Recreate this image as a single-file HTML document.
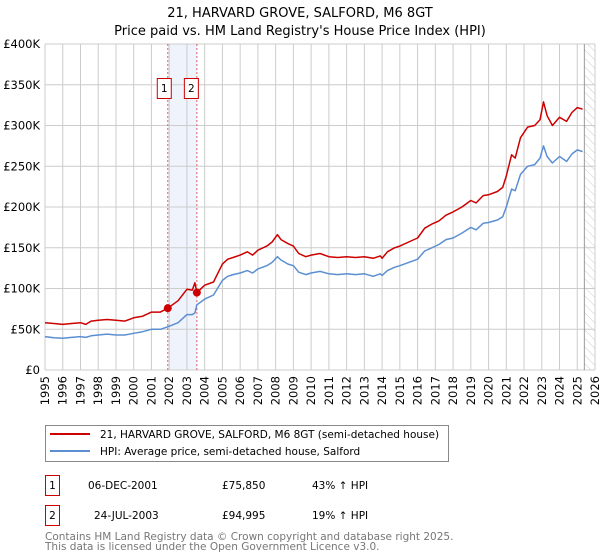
<!DOCTYPE html>
<html><head><meta charset="utf-8"><style>
body{margin:0;background:#fff;width:600px;height:560px;overflow:hidden;font-family:"DejaVu Sans","Liberation Sans",sans-serif}
svg{display:block}
</style></head><body>
<svg id="chart" width="600" height="560" font-family="DejaVu Sans, Liberation Sans, sans-serif">
<text x="300" y="17" text-anchor="middle" font-size="13">21, HARVARD GROVE, SALFORD, M6 8GT</text>
<text x="300" y="35" text-anchor="middle" font-size="13">Price paid vs. HM Land Registry's House Price Index (HPI)</text>
<g id="grid"></g><g id="marks"></g><g id="axes"></g>
<g>
<rect x="45.5" y="425.5" width="403" height="36" fill="#fff" stroke="#888"/>
<line x1="50" y1="434" x2="90" y2="434" stroke="#cc0000" stroke-width="2"/>
<text x="100" y="438" font-size="10.5">21, HARVARD GROVE, SALFORD, M6 8GT (semi-detached house)</text>
<line x1="50" y1="451" x2="90" y2="451" stroke="#5b8fd1" stroke-width="2"/>
<text x="100" y="455" font-size="10.5">HPI: Average price, semi-detached house, Salford</text>
</g>
<g font-size="10.5">
<rect x="45.5" y="475.5" width="14" height="20" fill="#fff" stroke="#cc0000"/>
<text x="52.5" y="489" text-anchor="middle">1</text>
<text x="88" y="489">06-DEC-2001</text>
<text x="222" y="489">£75,850</text>
<text x="312" y="489">43% ↑ HPI</text>
<rect x="45.5" y="505.5" width="14" height="20" fill="#fff" stroke="#cc0000"/>
<text x="52.5" y="519" text-anchor="middle">2</text>
<text x="94" y="519">24-JUL-2003</text>
<text x="222" y="519">£94,995</text>
<text x="312" y="519">19% ↑ HPI</text>
</g>
<text x="45" y="540" font-size="10.5" fill="#777">Contains HM Land Registry data © Crown copyright and database right 2025.</text>
<text x="45" y="550" font-size="10.5" fill="#777">This data is licensed under the Open Government Licence v3.0.</text>
</svg>
<script>
const yearTicks=[1995,1996,1997,1998,1999,2000,2001,2002,2003,2004,2005,2006,2007,2008,2009,2010,2011,2012,2013,2014,2015,2016,2017,2018,2019,2020,2021,2022,2023,2024,2025,2026];
const valueTicks=[0,50000,100000,150000,200000,250000,300000,350000,400000];
const valueTickLabels=["£0","£50K","£100K","£150K","£200K","£250K","£300K","£350K","£400K"];
const times=[1995.0,1995.5,1996.0,1996.5,1997.0,1997.3,1997.6,1998.0,1998.5,1999.0,1999.5,2000.0,2000.5,2001.0,2001.5,2001.92,2002.5,2003.0,2003.3,2003.45,2003.56,2004.0,2004.5,2005.0,2005.3,2005.6,2006.0,2006.4,2006.7,2007.0,2007.5,2007.8,2008.1,2008.3,2008.7,2009.0,2009.3,2009.7,2010.0,2010.5,2011.0,2011.5,2012.0,2012.5,2013.0,2013.5,2013.9,2014.0,2014.3,2014.7,2015.0,2015.5,2016.0,2016.4,2016.8,2017.2,2017.6,2018.0,2018.5,2019.0,2019.3,2019.7,2020.0,2020.5,2020.8,2021.0,2021.3,2021.5,2021.8,2022.2,2022.6,2022.9,2023.1,2023.3,2023.6,2024.0,2024.4,2024.7,2025.0,2025.3];
const hpiValues=[41,39.5,39,40,41,40,42,43,44,43,43,45,47,50,50,53,58,68,68,70,80,87,92,110,115,117,119,122,119,124,128,132,139,135,130,128,120,117,119,121,118,117,118,117,118,115,118,116,122,126,128,132,136,146,150,154,160,162,168,175,172,180,181,184,188,200,222,220,240,250,252,260,275,262,254,262,256,265,270,268];
const propertyValues=[58,57,56,57,58,56,60,61,62,61,60,64,66,71,71,75.85,85,99,98,107,95,104,108,130,136,138,141,145,141,147,152,157,166,160,155,152,143,139,141,143,139,138,139,138,139,137,140,137,145,150,152,157,162,174,179,183,190,194,200,208,205,214,215,219,224,238,264,260,285,298,300,307,329,312,300,310,305,316,322,320];
const saleTimes=[2001.92,2003.56];
const salePrices=[75850,94995];
const saleLabels=["1","2"];
const dataEnd=2025.4;
const NS="http://www.w3.org/2000/svg";
const X0=45,X1=595,Y0=370,Y1=44;
const xs=t=>X0+(t-1995)/(2026-1995)*(X1-X0);
const ys=v=>Y0-v/400000*(Y0-Y1);
function mk(tag,attrs,parent){const e=document.createElementNS(NS,tag);for(const k in attrs)e.setAttribute(k,attrs[k]);parent.appendChild(e);return e;}
const grid=document.getElementById('grid'),marks=document.getElementById('marks'),axes=document.getElementById('axes');
const span=mk('rect',{x:xs(saleTimes[0]),y:Y1,width:xs(saleTimes[1])-xs(saleTimes[0]),height:Y0-Y1,fill:'#eef3fc'},grid);


const defs=mk('defs',{},grid);
const pat=mk('pattern',{id:'hatch',width:6,height:6,patternUnits:'userSpaceOnUse',patternTransform:'rotate(-45)'},defs);
mk('line',{x1:0,y1:0,x2:0,y2:6,stroke:'#ccc','stroke-width':1},pat);
const hat=mk('rect',{x:xs(dataEnd),y:Y1,width:X1-xs(dataEnd),height:Y0-Y1,fill:'url(#hatch)'},grid);


yearTicks.forEach(y=>{
  const l=mk('line',{x1:xs(y),y1:Y1,x2:xs(y),y2:Y0,stroke:'#ccc','stroke-width':1},grid);
  
  
  const t=mk('text',{x:0,y:0,'font-size':11.5,'text-anchor':'end',transform:`translate(${xs(y)+4},376) rotate(-90)`},axes);
  t.textContent=y;
  
  
});
valueTicks.forEach((v,i)=>{
  const l=mk('line',{x1:X0,y1:ys(v),x2:X1,y2:ys(v),stroke:'#ccc','stroke-width':1},grid);
  
  
  const t=mk('text',{x:40,y:ys(v)+4,'font-size':11.5,'text-anchor':'end'},axes);
  t.textContent=valueTickLabels[i];
  
  
});
const endLine=mk('line',{x1:xs(dataEnd),y1:Y1,x2:xs(dataEnd),y2:Y0,stroke:'#999','stroke-width':1},grid);


saleTimes.forEach((t,i)=>{
  const l=mk('line',{x1:xs(t),y1:Y1,x2:xs(t),y2:Y0,stroke:'#e06060','stroke-width':1,'stroke-dasharray':'2,2'},grid);
  
  
});
function path(vals,color,name){
  const d=times.map((t,i)=>(i?'L':'M')+xs(t).toFixed(1)+','+ys(vals[i]*1000).toFixed(1)).join('');
  const p=mk('path',{d:d,fill:'none',stroke:color,'stroke-width':1.5,'stroke-linejoin':'round'},marks);
  
  
}
path(hpiValues,'#5b8fd1','hpi-line');
path(propertyValues,'#cc0000','property-price-line');
saleTimes.forEach((t,i)=>{
  const c=mk('circle',{cx:xs(t),cy:ys(salePrices[i]),r:4,fill:'#cc0000'},marks);
  
  
  const gx=i===0?xs(t)-10:xs(t)-12;
  const r=mk('rect',{x:gx-0.5,y:78.5,width:14,height:20,fill:'#fff',stroke:'#cc0000'},marks);
  
  
  const tx=mk('text',{x:gx+6.5,y:92,'font-size':10.5,'text-anchor':'middle'},marks);
  tx.textContent=saleLabels[i];
  
  
});
</script>
</body></html>
